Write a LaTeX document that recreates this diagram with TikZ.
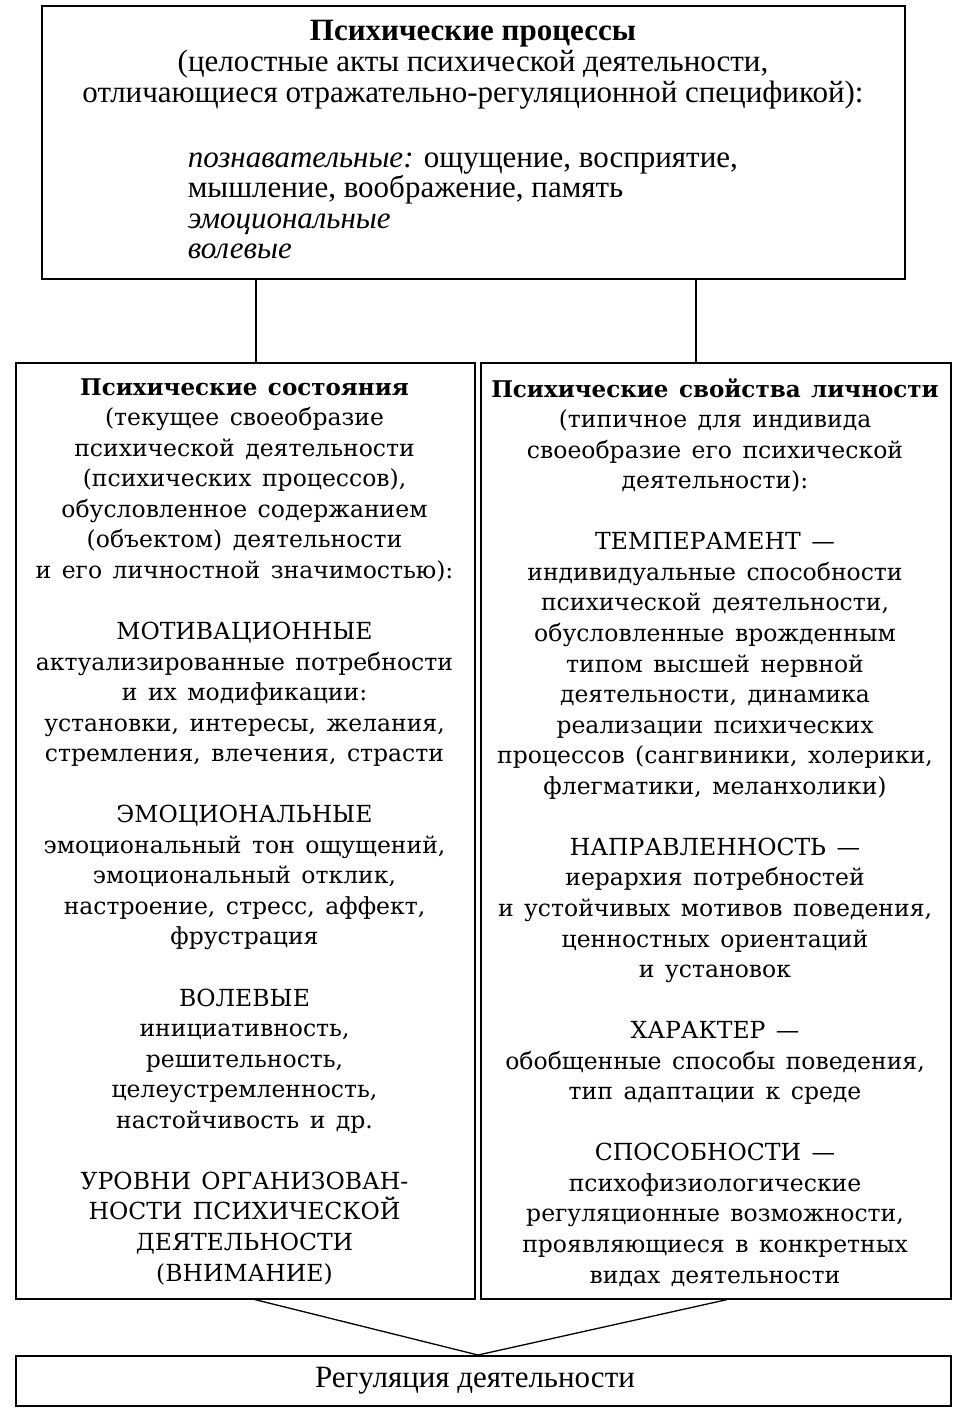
\documentclass[tikz,border=0pt]{standalone}
\usepackage{fontspec}
\setmainfont{Liberation Serif}
\newfontfamily\schfont{DejaVu Serif}
\newcommand\widesp{\spaceskip=10.5pt plus 2pt minus 1pt\relax}
\newcommand\coltitle[1]{{\fontsize{23}{30.55}\selectfont\bfseries #1}}
\begin{document}
\begin{tikzpicture}[x=1pt, y=-1pt, line width=1.6pt,
    box/.style={draw, rectangle, inner sep=0pt, anchor=north west},
    toptext/.style={font=\fontsize{31}{31}\selectfont, inner sep=0pt, align=center},
    coltext/.style={font=\schfont\fontsize{23.5}{30.55}\selectfont\widesp,
      inner sep=0pt, align=center}]
  \useasboundingbox (0,0) rectangle (971,1418);
  % 上の枠：心理過程
  \node[box, minimum width=863pt, minimum height=273pt] (proc) at (41,5) {};
  \node[toptext, anchor=north] (proctitle) at (473,19) {%
    \textbf{Психические процессы}\\
    (целостные акты психической деятельности,\\
    отличающиеся отражательно-регуляционной спецификой):};
  \node[toptext, font=\fontsize{31}{30.5}\selectfont, align=left, anchor=north west] (proclist) at (187,152) {%
    \textit{познавательные:} ощущение, восприятие,\\
    мышление, воображение, память\\
    \textit{эмоциональные}\\
    \textit{волевые}};
  % 左の枠：心理状態
  \node[box, minimum width=459pt, minimum height=936pt] (state) at (15,362) {};
  \node[coltext, anchor=north] (statetext) at (244.5,377.5) {%
    \coltitle{Психические состояния}\\
    (текущее своеобразие\\
    психической деятельности\\
    (психических процессов),\\
    обусловленное содержанием\\
    (объектом) деятельности\\
    и его личностной значимостью):\\[30.55pt]
    МОТИВАЦИОННЫЕ\\
    актуализированные потребности\\
    и их модификации:\\
    установки, интересы, желания,\\
    стремления, влечения, страсти\\[30.55pt]
    ЭМОЦИОНАЛЬНЫЕ\\
    эмоциональный тон ощущений,\\
    эмоциональный отклик,\\
    настроение, стресс, аффект,\\
    фрустрация\\[30.55pt]
    ВОЛЕВЫЕ\\
    инициативность,\\
    решительность,\\
    целеустремленность,\\
    настойчивость и др.\\[30.55pt]
    УРОВНИ ОРГАНИЗОВАН-\\
    НОСТИ ПСИХИЧЕСКОЙ\\
    ДЕЯТЕЛЬНОСТИ\\
    (ВНИМАНИЕ)};
  % 右の枠：人格の心理的特性
  \node[box, minimum width=470pt, minimum height=936pt] (trait) at (480,362) {};
  \node[coltext, anchor=north] (traittext) at (715,377.5) {%
    \coltitle{Психические свойства личности}\\
    (типичное для индивида\\
    своеобразие его психической\\
    деятельности):\\[30.55pt]
    ТЕМПЕРАМЕНТ —\\
    индивидуальные способности\\
    психической деятельности,\\
    обусловленные врожденным\\
    типом высшей нервной\\
    деятельности, динамика\\
    реализации психических\\
    процессов (сангвиники, холерики,\\
    флегматики, меланхолики)\\[30.55pt]
    НАПРАВЛЕННОСТЬ —\\
    иерархия потребностей\\
    и устойчивых мотивов поведения,\\
    ценностных ориентаций\\
    и установок\\[30.55pt]
    ХАРАКТЕР —\\
    обобщенные способы поведения,\\
    тип адаптации к среде\\[30.55pt]
    СПОСОБНОСТИ —\\
    психофизиологические\\
    регуляционные возможности,\\
    проявляющиеся в конкретных\\
    видах деятельности};
  % 下の枠：活動の調整
  \node[box, minimum width=935pt, minimum height=50pt] (reg) at (15,1355) {};
  \node[toptext, anchor=center] (regtext) at (475,1381) {Регуляция деятельности};
  % 接続線
  \coordinate (lx) at (256,0);
  \coordinate (rx) at (696,0);
  \draw[line width=1.3pt] (proc.south -| lx) -- (state.north -| lx);
  \draw[line width=1.3pt] (proc.south -| rx) -- (trait.north -| rx);
  \coordinate (lb) at (255,0);
  \coordinate (rb) at (727,0);
  \coordinate (apex) at (478,1355);
  \draw[line width=1.3pt] (state.south -| lb) -- (apex) -- (trait.south -| rb);
\end{tikzpicture}
\end{document}
